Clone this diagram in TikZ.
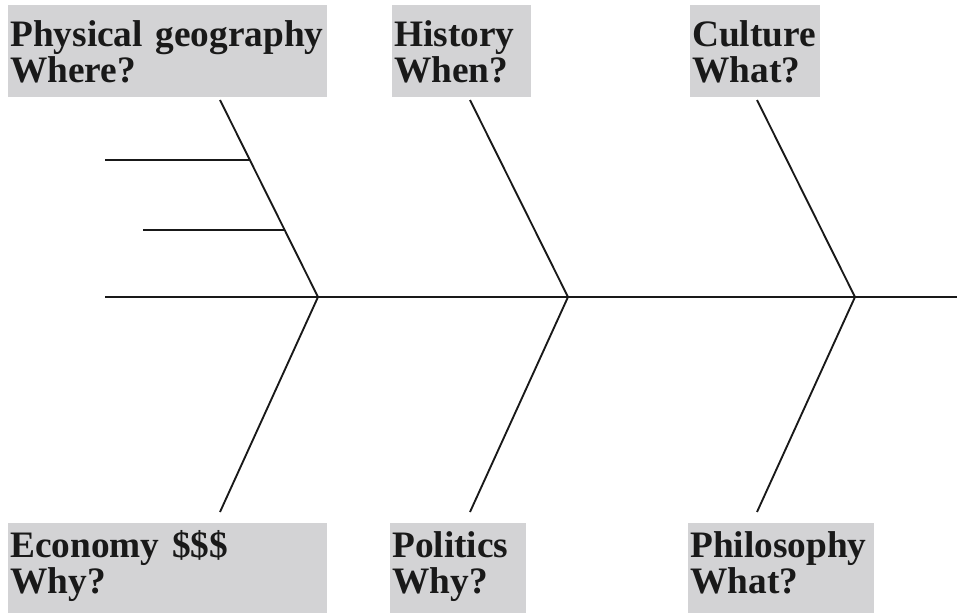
\documentclass[tikz,border=0pt]{standalone}
\usepackage{fontspec}
\setmainfont{Liberation Serif}
\usetikzlibrary{calc}
\definecolor{boxgray}{RGB}{211,211,213}
\tikzset{
	label box/.style={fill=boxgray, anchor=north west, align=left, inner xsep=1.5pt, inner ysep=0pt,
		font=\fontsize{28}{27}\selectfont\bfseries, text=black!90},
	top box/.style={label box, minimum height=69pt, text depth=27pt},
	bottom box/.style={label box, minimum height=67.5pt, text depth=36pt},
	bone/.style={line width=1.4pt, draw=black!90},
}
\begin{document}
\begin{tikzpicture}[x=0.75pt, y=-0.75pt]
	\useasboundingbox (0,0) rectangle (957,613);
	% labels
	\node (geo) at (8,  5)	[top box, text width=236pt]	{Physical geography\\Where?};
	\node (his) at (392,5)	[top box, text width=101pt]	{History\\When?};
	\node (cul) at (690,5)	[top box, text width=94pt]	{Culture\\What?};
	\node (eco) at (8,  523)	[bottom box, text width=236pt]	{Economy \$\$\$\\Why?};
	\node (pol) at (390,523)	[bottom box, text width=99pt]	{Politics\\Why?};
	\node (phi) at (688,523)	[bottom box, text width=136pt]	{Philosophy\\What?};
	% spine
	\coordinate (tail) at (105,297);
	\coordinate (head) at (957,297);
	\coordinate (j1) at (318,297);
	\coordinate (j2) at (568,297);
	\coordinate (j3) at (855,297);
	\coordinate (t1) at (220,100);
	\coordinate (t2) at (470,100);
	\coordinate (t3) at (757,100);
	\coordinate (b1) at (220,512);
	\coordinate (b2) at (470,512);
	\coordinate (b3) at (757,512);
	% small bones
	\coordinate (s1) at (105,160);
	\coordinate (s2) at (143,230);
	\coordinate (e1) at ($(t1)!0.3046!(j1)$);
	\coordinate (e2) at ($(t1)!0.6599!(j1)$);
	\draw[bone] (tail) -- (head);
	\draw[bone] (t1) -- (j1) -- (b1);
	\draw[bone] (t2) -- (j2) -- (b2);
	\draw[bone] (t3) -- (j3) -- (b3);
	\draw[bone] (s1) -- (e1);
	\draw[bone] (s2) -- (e2);
\end{tikzpicture}
\end{document}
